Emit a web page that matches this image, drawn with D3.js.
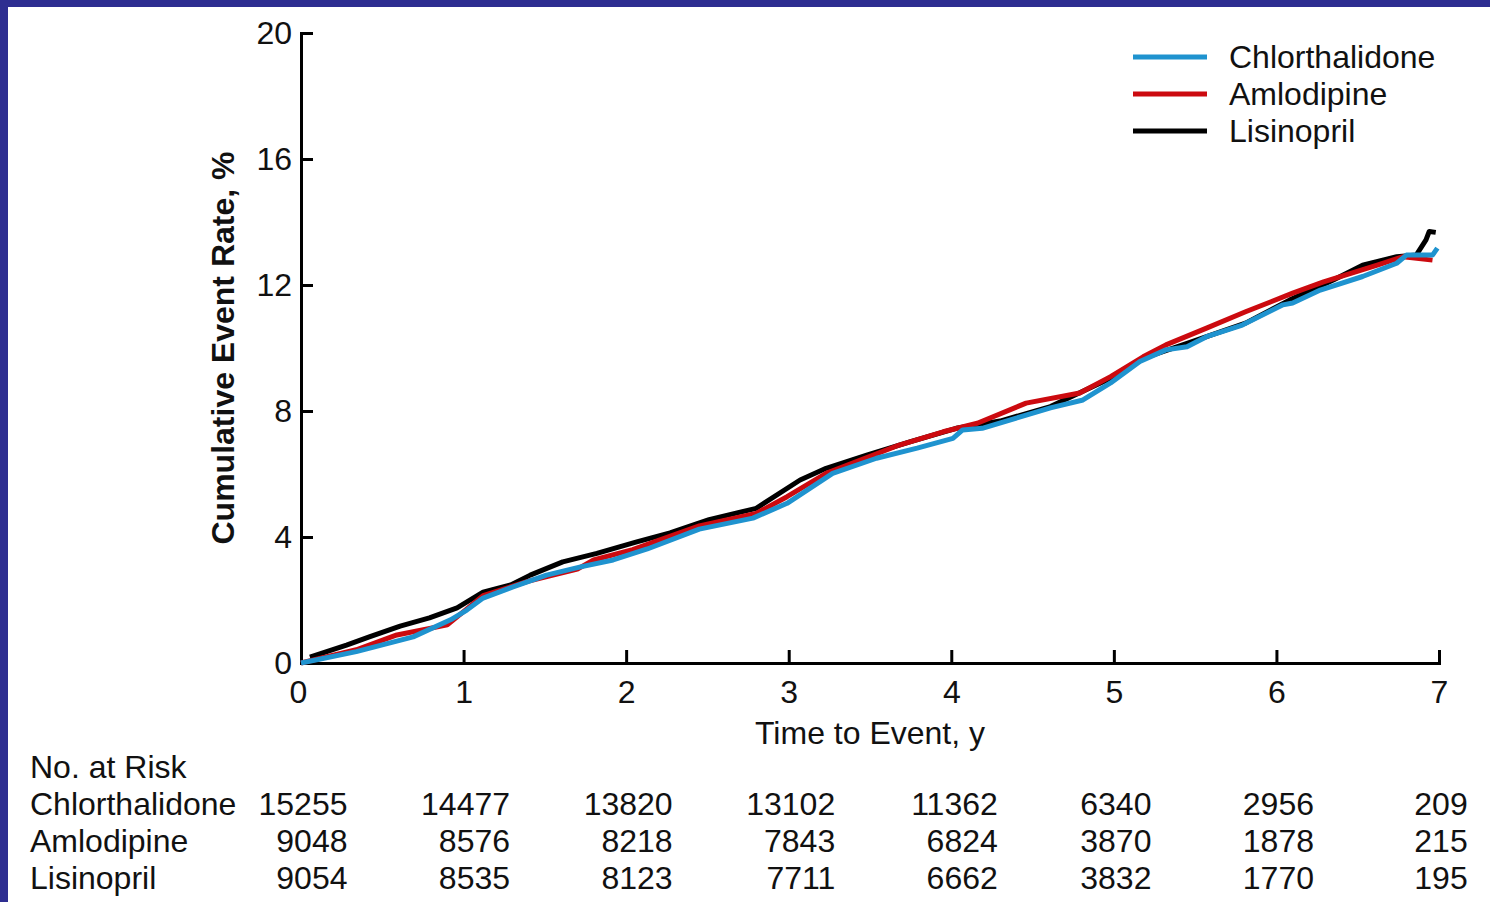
<!DOCTYPE html>
<html>
<head>
<meta charset="utf-8">
<script src="https://cdn.jsdelivr.net/npm/d3@7"></script>
<style>
body { margin: 0; background: #fff; }
svg { display: block; font-family: "Liberation Sans", Arial, sans-serif; }
.axis path, .axis line { stroke: #000; stroke-width: 3; }
.axis text { font-size: 32px; fill: #111; font-family: "Liberation Sans", Arial, sans-serif; }
</style>
</head>
<body>
<svg></svg>
<script>
var seriesNames = ["Chlorthalidone", "Amlodipine", "Lisinopril"];
var seriesColors = ["#1f93cf", "#cc0a0f", "#000000"];

var chlorTime = [0, 0.34, 0.69, 0.92, 1.02, 1.12, 1.30, 1.51, 1.72, 1.92, 2.13, 2.45, 2.78, 2.99, 3.27, 3.54, 3.79, 4.01, 4.07, 4.19, 4.61, 4.81, 4.98, 5.16, 5.32, 5.45, 5.57, 5.79, 6.04, 6.10, 6.27, 6.53, 6.74, 6.80, 6.96, 6.99];
var chlorRate = [0, 0.36, 0.83, 1.37, 1.68, 2.06, 2.41, 2.79, 3.05, 3.27, 3.62, 4.25, 4.60, 5.07, 6.02, 6.50, 6.82, 7.13, 7.40, 7.45, 8.10, 8.35, 8.89, 9.57, 9.94, 10.04, 10.36, 10.73, 11.37, 11.43, 11.84, 12.27, 12.69, 12.95, 12.95, 13.17];

var amloTime = [0, 0.34, 0.59, 0.90, 1.12, 1.40, 1.70, 1.80, 2.04, 2.45, 2.80, 2.99, 3.23, 3.68, 3.95, 4.16, 4.46, 4.79, 4.98, 5.18, 5.32, 5.57, 5.81, 6.10, 6.29, 6.62, 6.78, 6.96];
var amloRate = [0, 0.42, 0.89, 1.21, 2.14, 2.60, 2.98, 3.27, 3.60, 4.35, 4.75, 5.28, 6.02, 6.92, 7.34, 7.61, 8.25, 8.57, 9.09, 9.72, 10.10, 10.63, 11.15, 11.74, 12.10, 12.63, 12.90, 12.79];

var lisiTime = [0.055, 0.28, 0.42, 0.61, 0.79, 0.96, 1.12, 1.29, 1.41, 1.61, 1.82, 2.06, 2.27, 2.51, 2.80, 3.07, 3.23, 3.48, 3.75, 4.03, 4.30, 4.61, 4.98, 5.18, 5.45, 5.81, 6.08, 6.35, 6.53, 6.74, 6.86, 6.92, 6.94, 6.98];
var lisiRate = [0.19, 0.57, 0.83, 1.17, 1.43, 1.75, 2.25, 2.48, 2.79, 3.21, 3.48, 3.84, 4.13, 4.55, 4.91, 5.81, 6.18, 6.60, 7.03, 7.45, 7.68, 8.14, 9.04, 9.67, 10.15, 10.79, 11.52, 12.16, 12.63, 12.90, 12.95, 13.43, 13.70, 13.67];

var xTicks = [0, 1, 2, 3, 4, 5, 6, 7];
var yTicks = [0, 4, 8, 12, 16, 20];

// number at risk, one column per year tick
var riskChlor = [15255, 14477, 13820, 13102, 11362, 6340, 2956, 209];
var riskAmlo = [9048, 8576, 8218, 7843, 6824, 3870, 1878, 215];
var riskLisi = [9054, 8535, 8123, 7711, 6662, 3832, 1770, 195];

var width = 1490, height = 902, fontSize = 32;
var svg = d3.select("svg").attr("width", width).attr("height", height);

// dark blue slide frame (top and left)
svg.append("rect").attr("x", 0).attr("y", 0).attr("width", width).attr("height", 7).attr("fill", "#2e2e91");
svg.append("rect").attr("x", 0).attr("y", 0).attr("width", 8).attr("height", height).attr("fill", "#2e2e91");

var x = d3.scaleLinear().domain([0, 7]).range([301, 1439]);
var y = d3.scaleLinear().domain([0, 20]).range([663, 33]);

// axes, ticks point inward
var xAxis = svg.append("g")
	.attr("class", "axis")
	.attr("transform", "translate(0," + y(0) + ")")
	.call(d3.axisBottom(x).tickValues(xTicks).tickFormat(d3.format("d"))
		.tickSizeInner(-13).tickSizeOuter(0).tickPadding(17));
xAxis.selectAll(".tick text").attr("dx", function(d) { return d === 0 ? "-3" : "0"; });

svg.append("g")
	.attr("class", "axis")
	.attr("transform", "translate(" + x(0) + ",0)")
	.call(d3.axisLeft(y).tickValues(yTicks).tickFormat(d3.format("d"))
		.tickSizeInner(-12).tickSizeOuter(0).tickPadding(9));

svg.selectAll(".axis .domain").attr("stroke-linecap", "square");

// axis titles
svg.append("text")
	.attr("transform", "translate(234,348) rotate(-90)")
	.attr("text-anchor", "middle")
	.attr("font-size", fontSize)
	.attr("font-weight", "bold")
	.attr("fill", "#111")
	.text("Cumulative Event Rate, %");

svg.append("text")
	.attr("x", (x(0) + x(7)) / 2)
	.attr("y", 744)
	.attr("text-anchor", "middle")
	.attr("font-size", fontSize)
	.attr("fill", "#111")
	.text("Time to Event, y");

// curves
var curves = [
	{ name: seriesNames[2], color: seriesColors[2], t: lisiTime, r: lisiRate },
	{ name: seriesNames[1], color: seriesColors[1], t: amloTime, r: amloRate },
	{ name: seriesNames[0], color: seriesColors[0], t: chlorTime, r: chlorRate }
];

var line = d3.line()
	.x(function(d) { return x(d[0]); })
	.y(function(d) { return y(d[1]); });

svg.selectAll("path.curve")
	.data(curves)
	.enter()
	.append("path")
	.attr("class", "curve")
	.attr("fill", "none")
	.attr("stroke", function(d) { return d.color; })
	.attr("stroke-width", 5)
	.attr("stroke-linejoin", "round")
	.attr("d", function(d) {
		return line(d.t.map(function(t, i) { return [t, d.r[i]]; }));
	});

// legend
var legend = svg.selectAll("g.legend")
	.data(seriesNames)
	.enter()
	.append("g")
	.attr("class", "legend")
	.attr("transform", function(d, i) { return "translate(1133," + (57 + i * 37) + ")"; });

legend.append("line")
	.attr("x1", 0).attr("x2", 74)
	.attr("stroke", function(d, i) { return seriesColors[i]; })
	.attr("stroke-width", 5);

legend.append("text")
	.attr("x", 96)
	.attr("dy", "0.35em")
	.attr("font-size", fontSize)
	.attr("fill", "#111")
	.text(function(d) { return d; });

// number at risk table
svg.append("text")
	.attr("x", 30).attr("y", 778)
	.attr("font-size", fontSize).attr("fill", "#111")
	.text("No. at Risk");

var riskRows = [riskChlor, riskAmlo, riskLisi];

riskRows.forEach(function(row, r) {
	svg.append("text")
		.attr("x", 30).attr("y", 815 + r * 37)
		.attr("font-size", fontSize).attr("fill", "#111")
		.text(seriesNames[r]);
});

// each column is centred on its tick, numbers right aligned inside it
xTicks.forEach(function(t, c) {
	var maxLen = d3.max(riskRows, function(row) { return String(row[c]).length; });
	var right = x(t) + 2 + maxLen * fontSize * 0.556 / 2;
	riskRows.forEach(function(row, r) {
		svg.append("text")
			.attr("x", right).attr("y", 815 + r * 37)
			.attr("text-anchor", "end")
			.attr("font-size", fontSize).attr("fill", "#111")
			.text(row[c]);
	});
});
</script>
</body>
</html>
